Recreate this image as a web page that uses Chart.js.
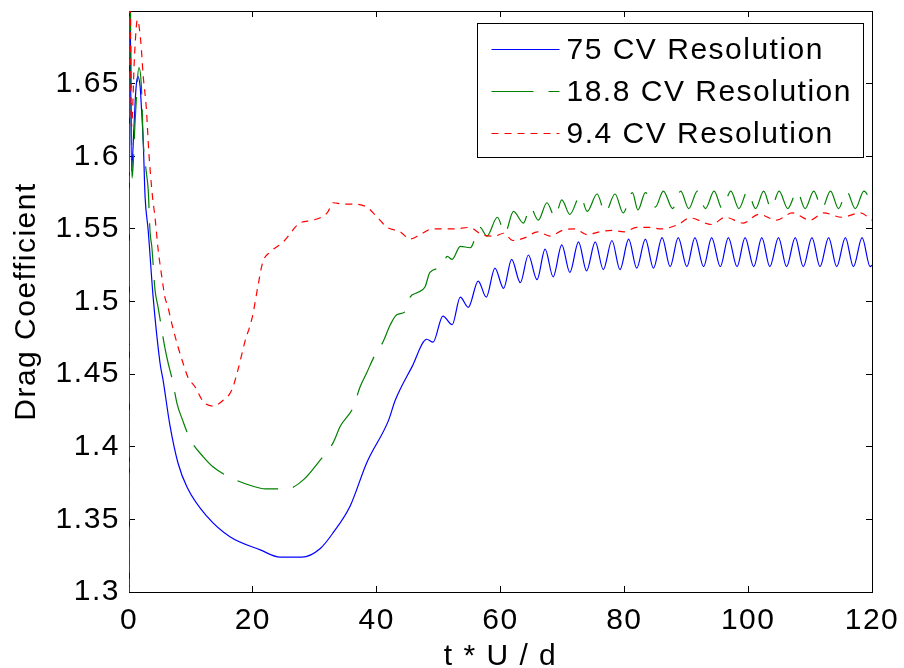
<!DOCTYPE html>
<html>
<head>
<meta charset="utf-8">
<script src="https://cdn.jsdelivr.net/npm/chart.js@4.4.0/dist/chart.umd.min.js"></script>
<style>
html, body { margin: 0; padding: 0; background: #fff; }
#wrap { width: 904px; height: 668px; }
</style>
</head>
<body>
<div id="wrap"><canvas id="drag-chart" width="904" height="668"></canvas></div>
<script>
// Drag coefficient vs. time, three grid resolutions
// each entry is [t*U/d, Cd]

const xTicks = { min: 0, max: 120, step: 20 };
const yTicks = { min: 1.3, max: 1.7, step: 0.05 };

const seriesLabels = ['75 CV Resolution', '18.8 CV Resolution', '9.4 CV Resolution'];

const cv75 = [
    [0, 1.0], [0.1, 1.75], [0.4, 1.59], [0.8, 1.62], [1.1, 1.645], [1.4, 1.655], [1.8, 1.648],
    [2.0, 1.634], [2.3, 1.610], [2.6, 1.572], [3.1, 1.549], [3.9, 1.503], [5.0, 1.458], [5.5, 1.446],
    [6.6, 1.415], [7.9, 1.389], [9.4, 1.372], [12.6, 1.352], [16.3, 1.338], [21.2, 1.329],
    [24.4, 1.324], [27.9, 1.324], [30.9, 1.330], [33.0, 1.341], [35.7, 1.359], [38.4, 1.389],
    [41.9, 1.418], [43.0, 1.432], [45.7, 1.455], [48.1, 1.474], [49.1, 1.472], [50.7, 1.490],
    [52.2, 1.484], [53.5, 1.503], [54.8, 1.496], [56.4, 1.514], [57.7, 1.503], [59.1, 1.523],
    [60.5, 1.509], [61.8, 1.529], [63.2, 1.513], [64.5, 1.532], [65.9, 1.515], [67.2, 1.536],
    [68.5, 1.517], [69.9, 1.539], [71.2, 1.520], [72.6, 1.541], [73.9, 1.521], [75.3, 1.541],
    [76.6, 1.522], [78.0, 1.542], [79.3, 1.522], [80.7, 1.543], [82.0, 1.523], [83.4, 1.543],
    [84.7, 1.523], [86.1, 1.544], [87.4, 1.524], [88.7, 1.544], [90.1, 1.524], [91.4, 1.544],
    [92.8, 1.524], [94.1, 1.544], [95.5, 1.524], [96.8, 1.544], [98.2, 1.524], [99.5, 1.544],
    [100.9, 1.524], [102.2, 1.544], [103.5, 1.524], [104.9, 1.544], [106.2, 1.524], [107.6, 1.544],
    [108.9, 1.524], [110.3, 1.544], [111.6, 1.524], [113.0, 1.544], [114.3, 1.524], [115.7, 1.544],
    [117.0, 1.524], [118.4, 1.544], [119.7, 1.524], [120, 1.525]
];

const cv18 = [
    [0, 1.0], [0.1, 1.75], [0.5, 1.585], [1.0, 1.625], [1.6, 1.661], [2.0, 1.648], [2.3, 1.610],
    [2.8, 1.589], [3.1, 1.577], [3.4, 1.548], [3.7, 1.537], [4.2, 1.508], [4.7, 1.496], [5.8, 1.468],
    [6.3, 1.458], [7.0, 1.446], [7.8, 1.429], [8.6, 1.419], [9.9, 1.405], [12.0, 1.393],
    [13.6, 1.386], [16.3, 1.379], [19.9, 1.373], [22.0, 1.371], [25.5, 1.371], [28.1, 1.377],
    [30.9, 1.391], [33.0, 1.403], [34.1, 1.414], [36.2, 1.427], [37.3, 1.441], [38.4, 1.451],
    [39.7, 1.463], [41.0, 1.472], [42.2, 1.484], [43.3, 1.491], [44.6, 1.493], [45.4, 1.503],
    [46.5, 1.506], [47.8, 1.510], [48.6, 1.520], [50.5, 1.524], [51.4, 1.531], [52.2, 1.529],
    [53.5, 1.538], [55.1, 1.537], [56.7, 1.551], [57.8, 1.545], [59.5, 1.558], [60.7, 1.547],
    [62.1, 1.562], [63.7, 1.554], [64.8, 1.565], [66.1, 1.556], [67.5, 1.568], [68.8, 1.558],
    [69.9, 1.570], [71.2, 1.560], [72.9, 1.573], [74.0, 1.562], [75.6, 1.574], [76.9, 1.561],
    [78.5, 1.574], [79.8, 1.561], [81.3, 1.575], [82.2, 1.563], [83.4, 1.575], [85.0, 1.565],
    [86.3, 1.576], [87.8, 1.564], [89.1, 1.576], [90.4, 1.564], [91.8, 1.576], [93.1, 1.564],
    [94.5, 1.576], [95.8, 1.564], [97.2, 1.576], [98.5, 1.564], [99.9, 1.576], [101.2, 1.564],
    [102.5, 1.576], [103.7, 1.564], [105.0, 1.576], [106.4, 1.564], [107.9, 1.576], [109.2, 1.564],
    [110.6, 1.576], [111.9, 1.564], [113.3, 1.576], [114.6, 1.564], [115.9, 1.576], [117.3, 1.564],
    [118.7, 1.576], [120, 1.567]
];

const cv94 = [
    [0, 1.0], [0.1, 1.75], [0.4, 1.62], [0.9, 1.670], [1.35, 1.694], [1.9, 1.679], [2.3, 1.655],
    [2.8, 1.633], [3.2, 1.603], [3.8, 1.572], [4.2, 1.558], [4.7, 1.536], [5.3, 1.517], [5.8, 1.503],
    [6.3, 1.496], [6.9, 1.485], [7.9, 1.469], [8.7, 1.458], [9.5, 1.448], [10.7, 1.441],
    [12.0, 1.431], [13.6, 1.428], [15.2, 1.432], [16.6, 1.439], [17.6, 1.453], [18.7, 1.472],
    [19.9, 1.489], [20.8, 1.510], [21.6, 1.527], [22.8, 1.534], [24.9, 1.541], [27.6, 1.554],
    [29.7, 1.556], [32.0, 1.561], [33.0, 1.568], [34.5, 1.567], [36.2, 1.567], [38.4, 1.565],
    [40.1, 1.558], [41.7, 1.551], [43.8, 1.548], [45.4, 1.543], [47.0, 1.546], [49.0, 1.550],
    [50.5, 1.550], [52.5, 1.550], [55.0, 1.551], [57.0, 1.546], [59.0, 1.545], [60.5, 1.547],
    [62.0, 1.542], [64.0, 1.544], [66.0, 1.548], [68.0, 1.545], [70.0, 1.549], [72.0, 1.550],
    [74.0, 1.546], [76.0, 1.548], [78.0, 1.549], [80.0, 1.548], [82.0, 1.551], [84.0, 1.551],
    [86.0, 1.550], [88.7, 1.553], [90.6, 1.5575], [94.1, 1.553], [96.3, 1.558], [99.2, 1.554],
    [101.7, 1.560], [104.6, 1.556], [107.1, 1.561], [110.0, 1.556], [112.2, 1.561], [115.1, 1.558],
    [118.1, 1.561], [120, 1.556]
];

const FONT = '"Liberation Sans", Arial, Helvetica, sans-serif';
const LETTER_GAP = '1.5px';
Chart.defaults.font.family = FONT;
Chart.defaults.color = '#000';

function toPoints(rows) {
    return rows.map(r => ({ x: r[0], y: r[1] }));
}

function fmtTick(v) {
    if (v > yTicks.max - 0.01) return '';
    return String(parseFloat(v.toFixed(2)));
}

// fix the plot box: no extra room for overhanging labels
function fixBox(size) {
    return function (s) {
        if (s.isHorizontal()) s.height = size; else s.width = size;
        s.paddingLeft = 0;
        s.paddingRight = 0;
        s.paddingTop = 0;
        s.paddingBottom = 0;
    };
}

// MATLAB text is a bit wider than Liberation Sans
const letterGap = {
    id: 'letterGap',
    beforeLayout(chart) { chart.ctx.letterSpacing = LETTER_GAP; },
    beforeDraw(chart) { chart.ctx.letterSpacing = LETTER_GAP; }
};

// legend drawn inside the plot box, top right
const legendBox = {
    id: 'legendBox',
    afterDraw(chart) {
        const ctx = chart.ctx;
        const area = chart.chartArea;
        const sets = chart.data.datasets;
        ctx.save();
        ctx.letterSpacing = LETTER_GAP;
        ctx.font = '30px ' + FONT;
        const textW = Math.max(...sets.map(d => ctx.measureText(d.label).width));
        const lineLen = 68, padL = 14, gap = 7, padR = 12, rowH = 42, padT = 25;
        const w = Math.round(padL + lineLen + gap + textW + padR);
        const h = padT * 2 + rowH * (sets.length - 1);
        const x0 = Math.round(area.right - 9 - w) + 0.5;
        const y0 = Math.round(area.top + 12) + 0.5;
        ctx.fillStyle = '#fff';
        ctx.fillRect(x0, y0, w, h);
        ctx.strokeStyle = '#000';
        ctx.lineWidth = 1;
        ctx.strokeRect(x0, y0, w, h);
        sets.forEach((d, i) => {
            const cy = Math.round(y0 + padT + i * rowH) + 0.5;
            ctx.beginPath();
            ctx.setLineDash(d.borderDash || []);
            ctx.strokeStyle = d.borderColor;
            ctx.lineWidth = 1;
            ctx.moveTo(x0 + padL, cy);
            ctx.lineTo(x0 + padL + lineLen, cy);
            ctx.stroke();
            ctx.setLineDash([]);
            ctx.fillStyle = '#000';
            ctx.textBaseline = 'middle';
            ctx.textAlign = 'left';
            ctx.fillText(d.label, x0 + padL + lineLen + gap, cy + 1);
        });
        ctx.restore();
    }
};

const axisGrid = { drawOnChartArea: false, drawTicks: true, tickLength: -6, color: '#000', lineWidth: 1 };
const axisBorder = { display: true, color: '#000', width: 1 };

const ctx = document.getElementById('drag-chart').getContext('2d');
const dragChart = new Chart(ctx, {
    type: 'line',
    data: {
        datasets: [
            {
                label: seriesLabels[0],
                data: toPoints(cv75),
                borderColor: '#0000ff',
                borderWidth: 1.2,
                order: 2
            },
            {
                label: seriesLabels[1],
                data: toPoints(cv18),
                borderColor: '#008000',
                borderWidth: 1.2,
                borderDash: [42, 15],
                order: 1
            },
            {
                label: seriesLabels[2],
                data: toPoints(cv94),
                borderColor: '#ff0000',
                borderWidth: 1.2,
                borderDash: [7, 6],
                order: 0
            }
        ]
    },
    options: {
        responsive: false,
        animation: false,
        devicePixelRatio: 1,
        elements: {
            point: { radius: 0 },
            line: { cubicInterpolationMode: 'monotone', fill: false }
        },
        layout: { padding: { left: 0, top: 11, right: 32, bottom: 0 } },
        plugins: {
            legend: { display: false },
            tooltip: { enabled: false }
        },
        scales: {
            x: {
                type: 'linear',
                position: 'bottom',
                min: xTicks.min,
                max: xTicks.max,
                ticks: { stepSize: xTicks.step, font: { size: 30 }, padding: 17, maxRotation: 0 },
                grid: axisGrid,
                border: axisBorder,
                title: { display: true, text: 't * U / d', font: { size: 30, lineHeight: 0.9 }, padding: { top: 0, bottom: -2 } },
                afterFit: fixBox(76)
            },
            y: {
                type: 'linear',
                position: 'left',
                min: yTicks.min,
                max: yTicks.max,
                ticks: { stepSize: yTicks.step, font: { size: 30 }, padding: 15, callback: fmtTick },
                grid: axisGrid,
                border: axisBorder,
                title: { display: true, text: 'Drag Coefficient', font: { size: 30, lineHeight: 0.9 }, padding: { top: 13, bottom: 0 } },
                afterFit: fixBox(129)
            },
            x2: {
                type: 'linear',
                position: 'top',
                min: xTicks.min,
                max: xTicks.max,
                ticks: { stepSize: xTicks.step, display: false },
                grid: axisGrid,
                border: axisBorder,
                afterFit: fixBox(0)
            },
            y2: {
                type: 'linear',
                position: 'right',
                min: yTicks.min,
                max: yTicks.max,
                ticks: { stepSize: yTicks.step, display: false },
                grid: axisGrid,
                border: axisBorder,
                afterFit: fixBox(0)
            }
        }
    },
    plugins: [letterGap, legendBox]
});
</script>
</body>
</html>
